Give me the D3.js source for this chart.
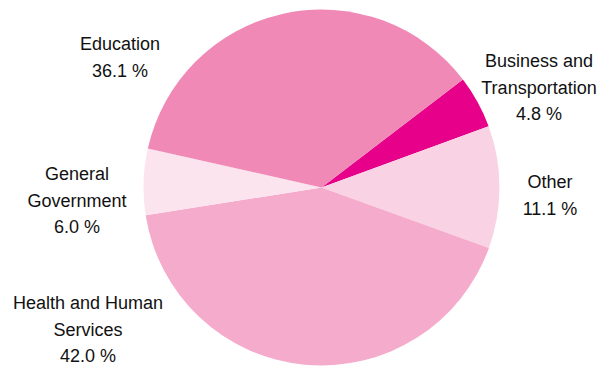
<!DOCTYPE html>
<html><head><meta charset="utf-8">
<script src="https://cdn.jsdelivr.net/npm/d3@7"></script>
<style>body{margin:0;background:#fff}svg{display:block}</style>
</head><body><svg width="601" height="366"></svg>
<script>
const categories = ["Business and Transportation","Other","Health and Human Services","General Government","Education"];
const values = [4.8, 11.1, 42.0, 6.0, 36.1];
const labelLines = [["Business and","Transportation"],["Other"],["Health and Human","Services"],["General","Government"],["Education"]];
const colors = ["#e7008a","#f9d3e3","#f5abcb","#fce4ee","#f089b5"];
const labelPos = [[539,67],[550,188],[88,309],[77,180],[120,50]];

const svg = d3.select("svg");
const cx = 321.5, cy = 187.5, r = 178;
const start = 52.6 * Math.PI / 180;
const pie = d3.pie().sort(null).value(d => d).startAngle(start).endAngle(start + 2*Math.PI);
const arc = d3.arc().innerRadius(0).outerRadius(r);
const g = svg.append("g").attr("transform", `translate(${cx},${cy})`);
g.selectAll("path").data(pie(values)).join("path")
  .attr("d", arc).attr("fill", (d,i) => colors[i]);

const lh = 26.7;
categories.forEach((c,i) => {
  const t = svg.append("text").attr("text-anchor","middle")
    .attr("font-family","Liberation Sans, Arial, sans-serif").attr("font-size",18).attr("fill","#111");
  const lines = labelLines[i].concat([values[i].toFixed(1) + " %"]);
  lines.forEach((l,j) => t.append("tspan").attr("x", labelPos[i][0]).attr("y", labelPos[i][1] + j*lh).text(l));
});
</script></body></html>
